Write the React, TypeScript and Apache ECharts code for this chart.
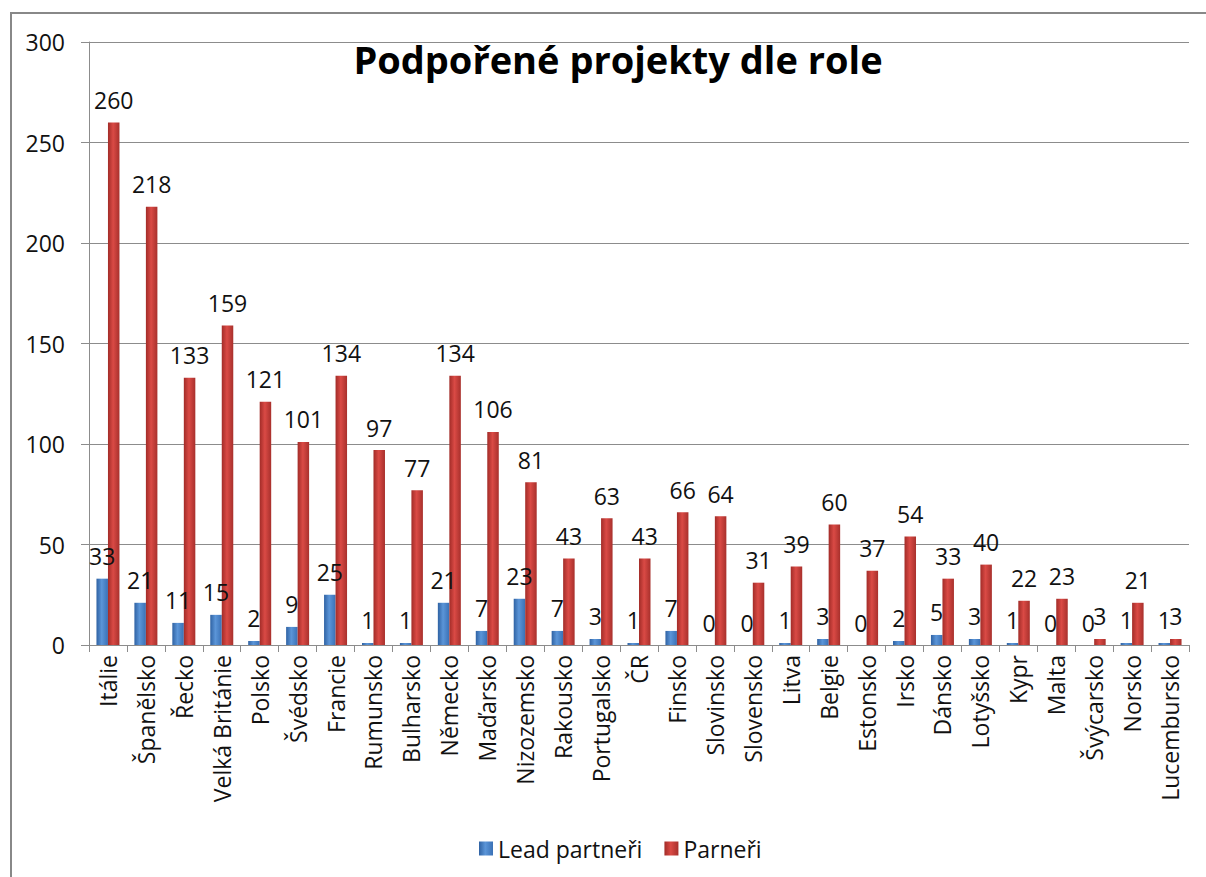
import React, { useEffect, useRef } from "react";
import * as echarts from "echarts";

const categories = [
  "Itálie", "Španělsko", "Řecko", "Velká Británie", "Polsko", "Švédsko", "Francie",
  "Rumunsko", "Bulharsko", "Německo", "Maďarsko", "Nizozemsko", "Rakousko",
  "Portugalsko", "ČR", "Finsko", "Slovinsko", "Slovensko", "Litva", "Belgie",
  "Estonsko", "Irsko", "Dánsko", "Lotyšsko", "Kypr", "Malta", "Švýcarsko",
  "Norsko", "Lucembursko",
];
const leadPartners = [33, 21, 11, 15, 2, 9, 25, 1, 1, 21, 7, 23, 7, 3, 1, 7, 0, 0, 1, 3, 0, 2, 5, 3, 1, 0, 0, 1, 1];
const partners = [260, 218, 133, 159, 121, 101, 134, 97, 77, 134, 106, 81, 43, 63, 43, 66, 64, 31, 39, 60, 37, 54, 33, 40, 22, 23, 3, 21, 3];
const yTicks = { min: 0, max: 300, interval: 50 };
const titleText = "Podpořené projekty dle role";
const seriesNames = ["Lead partneři", "Parneři"];

const FONT = "'Open Sans', 'Noto Sans', sans-serif";
const FS = 23;

function grad(dark: string, light: string, mid: string) {
  return new echarts.graphic.LinearGradient(0, 0, 1, 0, [
    { offset: 0, color: dark },
    { offset: 0.45, color: light },
    { offset: 1, color: mid },
  ]);
}

export default function App() {
  const ref = useRef<HTMLDivElement>(null);
  useEffect(() => {
    if (!ref.current) return;
    const chart = echarts.init(ref.current, undefined, { renderer: "svg" });
    const labelStyle = {
      show: true,
      position: "top" as const,
      distance: 11,
      fontFamily: FONT,
      fontSize: FS,
      color: "#111",
    };
    chart.setOption({
      animation: false,
      backgroundColor: "#fff",
      title: {
        text: titleText,
        left: 613,
        textAlign: "center",
        top: 35,
        textStyle: { fontFamily: FONT, fontSize: 38, fontWeight: "bold", color: "#000" },
      },
      legend: {
        left: 474,
        top: 832,
        itemWidth: 14,
        itemHeight: 14,
        itemGap: 22,
        icon: "rect",
        textStyle: { fontFamily: FONT, fontSize: FS, color: "#111", padding: [0, 0, 0, 0] },
        data: seriesNames,
      },
      grid: { left: 89, right: 17, top: 42, bottom: 232, containLabel: false },
      xAxis: {
        type: "category",
        data: categories,
        axisLine: { show: true, lineStyle: { color: "#8c8c8c", width: 1 } },
        axisTick: { show: true, length: 7, lineStyle: { color: "#8c8c8c" } },
        axisLabel: {
          rotate: 90,
          interval: 0,
          margin: 10,
          fontFamily: FONT,
          fontSize: FS,
          color: "#111",
        },
      },
      yAxis: {
        type: "value",
        min: yTicks.min,
        max: yTicks.max,
        interval: yTicks.interval,
        axisLine: { show: true, lineStyle: { color: "#8c8c8c", width: 1 } },
        axisTick: { show: true, length: 8, lineStyle: { color: "#8c8c8c" } },
        splitLine: { show: true, lineStyle: { color: "#8c8c8c", width: 1 } },
        axisLabel: { margin: 24, fontFamily: FONT, fontSize: FS, color: "#111" },
      },
      series: [
        {
          name: seriesNames[0],
          type: "bar",
          data: leadPartners,
          barWidth: 11.5,
          barGap: "0%",
          itemStyle: { color: grad("#2f62a3", "#5b95d8", "#3a71b6") },
          label: labelStyle,
        },
        {
          name: seriesNames[1],
          type: "bar",
          data: partners,
          barWidth: 11.5,
          barGap: "0%",
          itemStyle: { color: grad("#a22c28", "#da4a45", "#a8302c") },
          label: labelStyle,
        },
      ],
      graphic: [
        {
          type: "line",
          shape: { x1: 11, y1: 13, x2: 11, y2: 877 },
          style: { stroke: "#888", lineWidth: 2 },
          silent: true,
        },
        {
          type: "line",
          shape: { x1: 10, y1: 13, x2: 1206, y2: 13 },
          style: { stroke: "#888", lineWidth: 2 },
          silent: true,
        },
      ],
    });
    return () => chart.dispose();
  }, []);
  return <div ref={ref} style={{ width: 1206, height: 877, position: "absolute", left: 0, top: 0 }} />;
}
